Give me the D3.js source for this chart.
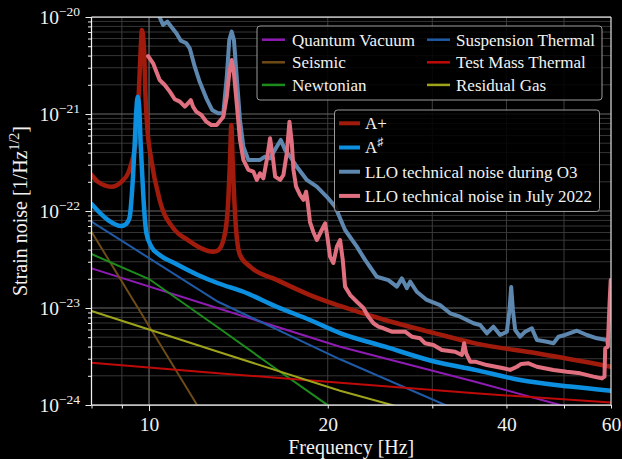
<!DOCTYPE html>
<html><head><meta charset="utf-8">
<script src="https://cdn.jsdelivr.net/npm/d3@7/dist/d3.min.js"></script>
<style>html,body{margin:0;padding:0;background:#000;} svg{display:block;}</style>
</head><body>
<svg id="chart" width="622" height="459"></svg>
<script>
// ---------- tick / axis data ----------
const xTickLabels = [10, 20, 40, 60];
const xMajorTicks = [10];
const xMinorTicks = [8, 9, 20, 30, 40, 50, 60];
const yDecadeExps = [-24, -23, -22, -21, -20];
const yMinorMantissas = [2, 3, 4, 5, 6, 7, 8, 9];

// ---------- noise component curves [frequency Hz, strain 1/sqrt(Hz)] ----------
const quantumVacuum = [[8, 2.56e-23], [13.07, 9.93e-24], [20.98, 3.99e-24], [35.42, 1.74e-24], [49.26, 1.0e-24], [60, 7.3e-25]];
const seismic = [[8, 6.12e-23], [12.0, 1.04e-24], [12.47, 7.0e-25]];
const newtonian = [[8, 3.6e-23], [10, 1.99e-23], [13.07, 6.3e-24], [16, 2.6e-24], [19.8, 1.04e-24], [21, 8.0e-25]];
const suspensionThermal = [[8, 7.76e-23], [13.07, 1.16e-23], [20.98, 2.96e-24], [31.53, 1.0e-24], [36.1, 7.2e-25]];
const testMassThermal = [[8, 2.73e-24], [13.07, 2.12e-24], [20.98, 1.70e-24], [35.42, 1.32e-24], [60, 1.06e-24]];
const residualGas = [[8, 9.31e-24], [13.07, 3.54e-24], [20.98, 1.40e-24], [25.64, 1.0e-24], [32.1, 6.8e-25]];

// ---------- total curves ----------
const aPlus = [[8.0, 2.35e-22], [8.20, 2.00e-22], [8.64, 1.78e-22], [8.98, 2.00e-22], [9.22, 2.45e-22], [9.34, 3.10e-22],
  [9.52, 5.83e-22], [9.61, 1.63e-21], [9.68, 4.57e-21], [9.73, 7.34e-21], [9.81, 4.57e-21], [9.86, 1.63e-21],
  [9.93, 7.39e-22], [10.09, 3.36e-22], [10.42, 1.30e-22], [11.05, 6.37e-23], [11.63, 5.02e-23], [12.25, 4.12e-23],
  [12.82, 3.80e-23], [13.09, 3.96e-23], [13.43, 5.93e-23], [13.60, 1.30e-22], [13.69, 3.36e-22], [13.76, 7.71e-22],
  [13.83, 3.36e-22], [13.92, 1.30e-22], [14.01, 6.68e-23], [14.23, 3.52e-23], [14.80, 2.67e-23], [16.41, 1.95e-23],
  [18.67, 1.36e-23], [20.98, 1.05e-23], [24.98, 7.52e-24], [30.34, 5.48e-24], [35.42, 4.32e-24], [44.99, 3.41e-24], [60, 2.48e-24]];
const aSharp = [[8.0, 1.18e-22], [8.53, 8.07e-23], [8.98, 7.00e-23], [9.15, 7.34e-23], [9.28, 8.73e-23], [9.34, 1.30e-22],
  [9.40, 2.35e-22], [9.46, 4.99e-22], [9.52, 1.10e-21], [9.57, 1.51e-21], [9.63, 1.10e-21], [9.68, 4.99e-22],
  [9.74, 2.35e-22], [9.79, 1.30e-22], [9.90, 5.89e-23], [10.09, 4.29e-23], [10.42, 3.52e-23], [11.05, 2.89e-23],
  [12.09, 2.19e-23], [13.07, 1.80e-23], [14.42, 1.47e-23], [16.41, 1.03e-23], [18.67, 7.52e-24], [20.98, 5.52e-24],
  [24.98, 3.99e-24], [30.34, 2.79e-24], [35.42, 2.30e-24], [42.18, 1.81e-24], [51.22, 1.55e-24], [60, 1.40e-24]];
const lloO3 = [[10.27, 1.18e-20], [10.44, 9.69e-21], [10.56, 8.27e-21], [10.74, 8.94e-21], [10.90, 7.94e-21], [11.12, 6.79e-21],
  [11.31, 5.70e-21], [11.56, 5.36e-21], [11.71, 4.76e-21], [11.94, 3.07e-21], [12.17, 2.15e-21], [12.49, 1.45e-21],
  [12.77, 1.10e-21], [13.07, 1.02e-21], [13.34, 1.02e-21], [13.52, 2.42e-21], [13.65, 5.79e-21], [13.78, 7.06e-21],
  [13.90, 5.79e-21], [14.05, 2.42e-21], [14.23, 8.67e-22], [14.42, 4.60e-22], [14.70, 3.36e-22], [15.38, 3.36e-22],
  [15.68, 3.63e-22], [15.99, 3.49e-22], [16.41, 4.60e-22], [16.67, 5.40e-22], [16.95, 4.25e-22], [17.29, 3.63e-22],
  [17.74, 2.86e-22], [18.44, 2.09e-22], [19.17, 1.78e-22], [19.93, 1.40e-22], [20.58, 1.11e-22], [21.39, 6.37e-23],
  [22.39, 4.29e-23], [23.12, 3.13e-23], [24.19, 2.10e-23], [25.30, 1.94e-23], [26.15, 1.66e-23], [26.66, 2.02e-23],
  [27.18, 1.60e-23], [27.53, 1.87e-23], [28.25, 1.47e-23], [29.37, 1.21e-23], [30.92, 1.07e-23], [32.15, 8.82e-24],
  [33.42, 8.14e-24], [35.20, 6.96e-24], [36.12, 6.68e-24], [37.07, 5.48e-24], [38.03, 6.42e-24], [39.03, 5.27e-24],
  [40.06, 5.70e-24], [40.47, 9.54e-24], [40.74, 1.65e-23], [41.01, 9.54e-24], [41.38, 5.93e-24], [42.18, 5.06e-24],
  [43.01, 5.70e-24], [44.14, 6.18e-24], [45.01, 4.68e-24], [46.79, 4.49e-24], [48.00, 4.33e-24], [48.95, 5.06e-24],
  [50.22, 5.27e-24], [52.57, 5.83e-24], [54.65, 5.27e-24], [56.82, 4.87e-24], [59.05, 4.68e-24], [59.35, 4.16e-24]];
const lloJuly2022 = [[9.96, 3.96e-21], [10.16, 3.33e-21], [10.29, 2.73e-21], [10.42, 2.24e-21], [10.63, 1.99e-21], [10.84, 1.70e-21],
  [11.05, 1.42e-21], [11.27, 1.34e-21], [11.49, 1.19e-21], [11.63, 1.29e-21], [11.76, 1.39e-21], [11.86, 1.19e-21],
  [12.01, 1.06e-21], [12.25, 9.76e-22], [12.49, 8.33e-22], [12.73, 7.70e-22], [13.00, 7.70e-22], [13.34, 9.38e-22],
  [13.52, 1.51e-21], [13.65, 2.63e-21], [13.78, 3.60e-21], [13.90, 2.63e-21], [14.05, 1.29e-21], [14.23, 5.40e-22],
  [14.42, 3.36e-22], [14.70, 2.65e-22], [14.99, 2.54e-22], [15.19, 2.09e-22], [15.38, 2.45e-22], [15.58, 2.17e-22],
  [15.79, 3.36e-22], [15.99, 5.62e-22], [16.16, 3.63e-22], [16.31, 2.26e-22], [16.63, 2.09e-22], [16.84, 2.35e-22],
  [17.06, 3.93e-22], [17.24, 8.33e-22], [17.40, 4.99e-22], [17.51, 2.65e-22], [17.69, 1.78e-22], [17.97, 1.46e-22],
  [18.20, 1.30e-22], [18.39, 1.58e-22], [18.51, 1.20e-22], [18.67, 7.70e-23], [18.91, 6.08e-23], [19.17, 5.02e-23],
  [19.54, 6.37e-23], [19.80, 7.47e-23], [19.97, 5.43e-23], [20.18, 3.38e-23], [20.44, 2.91e-23], [20.72, 4.29e-23],
  [20.98, 5.02e-23], [21.20, 3.13e-23], [21.39, 1.66e-23], [21.82, 1.36e-23], [22.39, 1.16e-23], [22.97, 1.00e-23],
  [23.42, 8.14e-24], [23.88, 6.96e-24], [24.34, 6.42e-24], [24.82, 6.18e-24], [25.64, 5.70e-24], [27.00, 5.70e-24],
  [27.71, 5.06e-24], [28.62, 4.87e-24], [29.17, 4.33e-24], [30.13, 4.16e-24], [31.13, 3.69e-24], [32.78, 3.54e-24],
  [33.65, 3.28e-24], [33.94, 4.33e-24], [34.21, 3.41e-24], [34.75, 2.80e-24], [35.42, 2.80e-24], [37.07, 2.58e-24],
  [39.54, 2.39e-24], [40.58, 2.30e-24], [41.65, 2.48e-24], [42.35, 2.65e-24], [43.57, 2.69e-24], [45.01, 2.48e-24],
  [48.00, 2.30e-24], [50.56, 2.20e-24], [53.25, 2.12e-24], [56.07, 1.96e-24], [57.92, 1.88e-24], [58.50, 1.96e-24],
  [58.67, 3.84e-24], [59.25, 3.99e-24], [59.70, 1.21e-23], [59.93, 1.94e-23]];

// ---------- series / legend definitions ----------
const componentSeries = [
  {name: "Quantum Vacuum", data: quantumVacuum, color: "#8e1cb3"},
  {name: "Seismic", data: seismic, color: "#6e4b16"},
  {name: "Newtonian", data: newtonian, color: "#1c8c1c"},
  {name: "Suspension Thermal", data: suspensionThermal, color: "#1f5aa6"},
  {name: "Test Mass Thermal", data: testMassThermal, color: "#bf0a0a"},
  {name: "Residual Gas", data: residualGas, color: "#9ea31c"}
];
const totalSeries = [
  {name: "A+", data: aPlus, color: "#a11b0c", w: 4.5, smooth: true},
  {name: "A♯", data: aSharp, color: "#0d8fe0", w: 4.5, smooth: true},
  {name: "LLO technical noise during O3", data: lloO3, color: "#5d87ae", w: 4, smooth: false},
  {name: "LLO technical noise in July 2022", data: lloJuly2022, color: "#e0707f", w: 4, smooth: false}
];

// ---------- layout ----------
const W = 622, H = 459;
const P = {l: 91.5, r: 611, t: 17, b: 405};
const x = d3.scaleLog().domain([8, 60]).range([P.l, P.r]);
const y = d3.scaleLog().domain([1e-24, 1e-20]).range([P.b, P.t]);
const FONT = "'Liberation Serif', 'Times New Roman', serif";
const TXT = "#f2f2f2";

const svg = d3.select("#chart");
svg.append("rect").attr("width", W).attr("height", H).attr("fill", "#000");
svg.append("defs").append("clipPath").attr("id", "clip")
  .append("rect").attr("x", P.l).attr("y", P.t).attr("width", P.r - P.l).attr("height", P.b - P.t);

const yMajor = yDecadeExps.map(e => Math.pow(10, e));
const yMinor = [];
yDecadeExps.slice(0, -1).forEach(e => yMinorMantissas.forEach(mm => yMinor.push(mm * Math.pow(10, e))));

// ---------- grid ----------
const grid = svg.append("g");
grid.selectAll(".hmin").data(yMinor).join("line")
  .attr("x1", P.l).attr("x2", P.r).attr("y1", d => y(d)).attr("y2", d => y(d))
  .attr("stroke", "#363636").attr("stroke-width", 1);
grid.selectAll(".vmin").data(xMinorTicks.filter(d => d > 8 && d < 60)).join("line")
  .attr("y1", P.t).attr("y2", P.b).attr("x1", d => x(d)).attr("x2", d => x(d))
  .attr("stroke", "#3c3c3c").attr("stroke-width", 1);
grid.selectAll(".hmaj").data(yMajor).join("line")
  .attr("x1", P.l).attr("x2", P.r).attr("y1", d => y(d)).attr("y2", d => y(d))
  .attr("stroke", "#6a6a6a").attr("stroke-width", 1.2);
grid.selectAll(".vmaj").data(xMajorTicks).join("line")
  .attr("y1", P.t).attr("y2", P.b).attr("x1", d => x(d)).attr("x2", d => x(d))
  .attr("stroke", "#6a6a6a").attr("stroke-width", 1.2);

// ---------- curves ----------
const plot = svg.append("g").attr("clip-path", "url(#clip)");
const lineLin = d3.line().x(d => x(d[0])).y(d => y(d[1]));
const lineSmooth = d3.line().x(d => x(d[0])).y(d => y(d[1])).curve(d3.curveMonotoneX);

plot.selectAll(".comp").data(componentSeries).join("path")
  .attr("d", d => lineLin(d.data)).attr("fill", "none")
  .attr("stroke", d => d.color).attr("stroke-width", 2);
plot.selectAll(".tot").data(totalSeries).join("path")
  .attr("d", d => (d.smooth ? lineSmooth : lineLin)(d.data)).attr("fill", "none")
  .attr("stroke", d => d.color).attr("stroke-width", d => d.w)
  .attr("stroke-linejoin", "round").attr("stroke-linecap", "round");

// ---------- axes ----------
function styleAxis(g) {
  g.select(".domain").remove();
  g.selectAll(".tick line").attr("stroke", "#eeeeee").attr("stroke-width", 1);
  g.selectAll("text").attr("fill", TXT).attr("font-family", FONT).attr("font-size", 19.5);
}
svg.append("g").attr("transform", `translate(0,${P.b})`)
  .call(d3.axisBottom(x).tickValues(xMinorTicks).tickSize(3.5).tickFormat(""))
  .call(styleAxis);
svg.append("g").attr("transform", `translate(0,${P.b})`)
  .call(d3.axisBottom(x).tickValues(xMajorTicks).tickSize(6).tickFormat(""))
  .call(styleAxis);
svg.append("g").attr("transform", `translate(0,${P.b})`)
  .call(d3.axisBottom(x).tickValues(xTickLabels).tickSize(0).tickPadding(12.5).tickFormat(d3.format("d")))
  .call(styleAxis);

svg.append("g").attr("transform", `translate(${P.l},0)`)
  .call(d3.axisLeft(y).tickValues(yMinor).tickSize(3.5).tickFormat(""))
  .call(styleAxis);
const yAx = svg.append("g").attr("transform", `translate(${P.l},0)`)
  .call(d3.axisLeft(y).tickValues(yMajor).tickSize(6).tickFormat(""))
  .call(styleAxis);
yAx.selectAll(".tick").each(function(d) {
  const e = Math.round(Math.log10(d));
  const t = d3.select(this).append("text")
    .attr("x", -11.5).attr("y", 6.6).attr("text-anchor", "end")
    .attr("fill", TXT).attr("font-family", FONT).attr("font-size", 19.5);
  t.append("tspan").text("10");
  t.append("tspan").attr("dy", -8.5).attr("font-size", 13.5).text("\u2212" + Math.abs(e));
});

// spines
const sp = svg.append("g").attr("fill", "none").attr("stroke-width", 1.25);
sp.append("line").attr("x1", P.l).attr("x2", P.r).attr("y1", P.t).attr("y2", P.t).attr("stroke", "#d8d8d8");
sp.append("line").attr("x1", P.r).attr("x2", P.r).attr("y1", P.t).attr("y2", P.b).attr("stroke", "#d8d8d8");
sp.append("line").attr("x1", P.l).attr("x2", P.r).attr("y1", P.b).attr("y2", P.b).attr("stroke", "#f0f0f0");
sp.append("line").attr("x1", P.l).attr("x2", P.l).attr("y1", P.t).attr("y2", P.b).attr("stroke", "#f0f0f0");

// axis labels
svg.append("text").attr("x", (P.l + P.r) / 2).attr("y", 453.5).attr("text-anchor", "middle")
  .attr("fill", TXT).attr("font-family", FONT).attr("font-size", 20).text("Frequency [Hz]");
const yl = svg.append("text").attr("transform", `translate(26.5,${(P.t + P.b) / 2}) rotate(-90)`)
  .attr("text-anchor", "middle").attr("fill", TXT).attr("font-family", FONT).attr("font-size", 20);
yl.append("tspan").text("Strain noise [1/Hz");
yl.append("tspan").attr("dy", -8).attr("font-size", 14).text("1/2");
yl.append("tspan").attr("dy", 8).text("]");

// ---------- legends ----------
function legendText(sel, name) {
  if (name === "A♯") {
    sel.append("tspan").text("A");
    sel.append("tspan").attr("dy", -7).attr("font-size", 12).text("♯");
  } else sel.text(name);
}
const lg1 = svg.append("g");
lg1.append("rect").attr("x", 257).attr("y", 26).attr("width", 345).attr("height", 74).attr("rx", 3)
  .attr("fill", "#000").attr("fill-opacity", 0.85).attr("stroke", "#9a9a9a").attr("stroke-width", 1);
componentSeries.forEach((s, i) => {
  const col = Math.floor(i / 3), row = i % 3;
  const lx = col === 0 ? 262 : 427, tx = col === 0 ? 292 : 456;
  const ry = 39.7 + row * 22.6;
  lg1.append("line").attr("x1", lx).attr("x2", lx + 23).attr("y1", ry).attr("y2", ry)
    .attr("stroke", s.color).attr("stroke-width", 2.5);
  lg1.append("text").attr("x", tx).attr("y", ry + 5.8).attr("fill", TXT)
    .attr("font-family", FONT).attr("font-size", 17).text(s.name);
});
const lg2 = svg.append("g");
lg2.append("rect").attr("x", 334.5).attr("y", 110).attr("width", 265).attr("height", 101.5).attr("rx", 3)
  .attr("fill", "#000").attr("fill-opacity", 0.85).attr("stroke", "#9a9a9a").attr("stroke-width", 1);
totalSeries.forEach((s, i) => {
  const ry = 123.3 + i * 24.2;
  lg2.append("line").attr("x1", 339).attr("x2", 360).attr("y1", ry).attr("y2", ry)
    .attr("stroke", s.color).attr("stroke-width", 4);
  const t = lg2.append("text").attr("x", 365).attr("y", ry + 5.8).attr("fill", TXT)
    .attr("font-family", FONT).attr("font-size", 17);
  legendText(t, s.name);
});
</script>
</body></html>
